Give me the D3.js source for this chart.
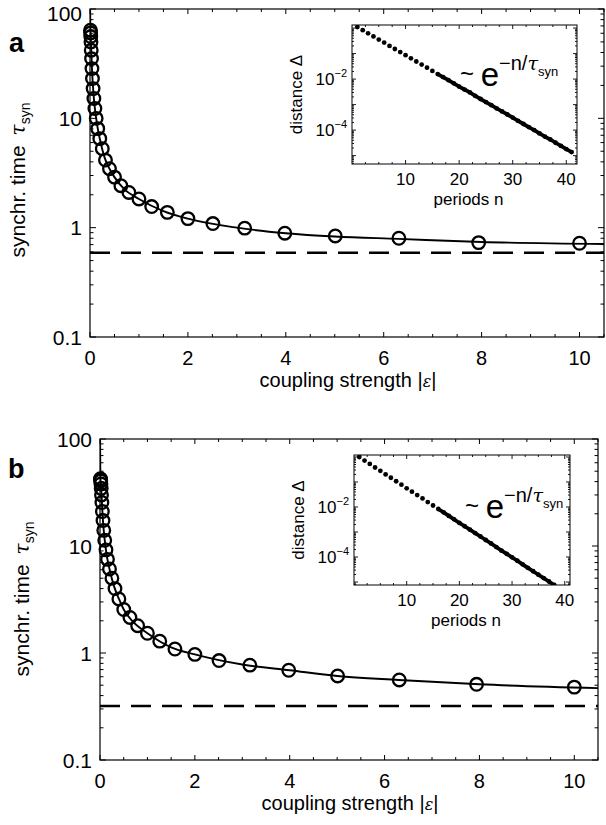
<!DOCTYPE html>
<html><head><meta charset="utf-8">
<script src="https://cdn.jsdelivr.net/npm/d3@7"></script>
<style>
body{margin:0;background:#fff}
svg{display:block}
text{font-family:"Liberation Sans",Arial,Helvetica,sans-serif;fill:#000}
</style>
</head><body>
<svg id="c" width="606" height="825"></svg>
<script>
// ---------- data ----------
const epsGrid = [0.01,0.0126,0.0158,0.02,0.0251,0.0316,0.0398,0.0501,0.0631,0.0794,0.1,0.126,0.158,0.2,0.251,0.316,0.398,0.501,0.631,0.794,1,1.26,1.58,2,2.51,3.16,3.98,5.01,6.31,7.94,10];
const tauA = [64,60.5,56,50,42,35.2,28.5,23.1,18.7,15.2,12.3,10,8.05,6.52,5.28,4.15,3.46,2.9,2.42,2.1,1.83,1.56,1.38,1.21,1.09,0.99,0.89,0.84,0.8,0.73,0.72];
const tauB = [42.5,41.8,40.5,38,34.5,30,25.5,21,17.3,14,11.3,9.2,7.5,6.1,5.0,4.0,3.2,2.55,2.15,1.8,1.53,1.29,1.09,0.97,0.85,0.77,0.69,0.61,0.56,0.51,0.48];
const curveEps = [0.002,0.005,0.01,0.02,0.04,0.07,0.1,0.15,0.2,0.3,0.4,0.5,0.7,1,1.5,2,3,4,5,6.3,8,10.5];
const curveTauA = [100,80,64,50,28.5,17,12.3,8.5,6.5,4.35,3.45,2.9,2.25,1.83,1.42,1.21,1.0,0.89,0.83,0.79,0.74,0.71];
const curveTauB = [100,60,42.5,38,25.5,15.5,11.3,7.8,6.1,4.15,3.2,2.55,1.95,1.53,1.13,0.97,0.78,0.69,0.61,0.56,0.51,0.47];
const limitA = 0.59, limitB = 0.32;
const xTickVals = [0,2,4,6,8,10];
const yTickVals = [0.1,1,10,100];
const yTickLabels = ["0.1","1","10","100"];

const periodsA = [1,2,3,4,5,6,7,8,9,10,11,12,13,14,15,16,17,18,19,20,21,22,23,24,25,26,27,28,29,30,31,32,33,34,35,36,37,38,39,40,41];
const distA = [1.10,0.83,0.62,0.47,0.355,0.27,0.20,0.151,0.115,0.087,0.065,0.049,0.037,0.028,0.021,0.0158,0.012,0.0091,0.0068,0.0051,0.0039,0.0030,0.0022,0.00166,0.00126,0.00095,0.00071,0.00054,0.00041,0.00031,0.00023,0.000174,0.000132,0.0001,7.4e-5,5.6e-5,4.3e-5,3.2e-5,2.4e-5,1.8e-5,1.38e-5];
const periodsB = [1,2,3,4,5,6,7,8,9,10,11,12,13,14,15,16,17,18,19,20,21,22,23,24,25,26,27,28,29,30,31,32,33,34,35,36,37,38];
const distB = [1.0,0.72,0.53,0.38,0.28,0.20,0.148,0.107,0.078,0.056,0.041,0.030,0.022,0.0158,0.0115,0.0083,0.0061,0.0044,0.0032,0.0023,0.0017,0.00124,0.00091,0.00066,0.00048,0.00035,0.00025,0.00018,0.000133,9.7e-5,7.1e-5,5.1e-5,3.7e-5,2.7e-5,1.96e-5,1.44e-5,1.05e-5,7.6e-6];
const insetXTicks = [10,20,30,40];
const insetYTicks = [1e-2,1e-4];
const insetYTickExp = ["−2","−4"];

// ---------- drawing ----------
const svg = d3.select("#c");

function logTicks(g, y, x0, x1, majorLen, minorLen) {
  y.ticks().forEach(t => {
    const isMajor = Math.abs(Math.log10(t) - Math.round(Math.log10(t))) < 1e-6;
    const L = isMajor ? majorLen : minorLen;
    const yy = y(t);
    g.append("line").attr("x1", x0).attr("x2", x0 + L).attr("y1", yy).attr("y2", yy);
    g.append("line").attr("x1", x1).attr("x2", x1 - L).attr("y1", yy).attr("y2", yy);
  });
}
function linTicks(g, x, vals, isMajor, y0, y1, majorLen, minorLen) {
  vals.forEach(t => {
    const L = isMajor(t) ? majorLen : minorLen;
    const xx = x(t);
    g.append("line").attr("x1", xx).attr("x2", xx).attr("y1", y0).attr("y2", y0 - L);
    g.append("line").attr("x1", xx).attr("x2", xx).attr("y1", y1).attr("y2", y1 + L);
  });
}

function panel(cfg) {
  const x = d3.scaleLinear().domain([0, 10.5]).range([cfg.left, cfg.right]);
  const y = d3.scaleLog().domain([0.1, 100]).range([cfg.bottom, cfg.top]);
  const g = svg.append("g");
  const clipId = "clip" + cfg.id;
  svg.append("clipPath").attr("id", clipId).append("rect")
    .attr("x", cfg.left).attr("y", cfg.top)
    .attr("width", cfg.right - cfg.left).attr("height", cfg.bottom - cfg.top);

  // ticks
  const tg = g.append("g").attr("stroke", "#000").attr("stroke-width", 1);
  logTicks(tg, y, cfg.left, cfg.right, 6, 3.5);
  linTicks(tg, x, d3.range(0, 10.51, 0.5), t => Math.abs(t % 2) < 1e-9, cfg.bottom, cfg.top, 5, 3);
  // frame
  g.append("rect").attr("x", cfg.left).attr("y", cfg.top)
    .attr("width", cfg.right - cfg.left).attr("height", cfg.bottom - cfg.top)
    .attr("fill", "none").attr("stroke", "#000").attr("stroke-width", 1.2);

  // tick labels
  yTickVals.forEach((v, i) => {
    g.append("text").attr("x", cfg.left - 8).attr("y", Math.max(y(v), 13)).attr("dy", "0.36em")
      .attr("text-anchor", "end").attr("font-size", 21).text(yTickLabels[i]);
  });
  xTickVals.forEach(v => {
    g.append("text").attr("x", x(v)).attr("y", cfg.bottom + 28)
      .attr("text-anchor", "middle").attr("font-size", 20).text(String(v));
  });
  // x title
  const xt = g.append("text").attr("x", (cfg.left + cfg.right) / 2 + 1).attr("y", cfg.bottom + 50)
    .attr("text-anchor", "middle").attr("font-size", 20);
  xt.append("tspan").text("coupling strength |");
  xt.append("tspan").attr("font-family", "DejaVu Serif, serif").attr("font-style", "italic").attr("font-size", 16).text("ε");
  xt.append("tspan").text("|");
  // y title
  const yt = g.append("text").attr("transform", `translate(${cfg.ytx},${cfg.yty}) rotate(-90)`)
    .attr("text-anchor", "middle").attr("font-size", 21);
  yt.append("tspan").text("synchr. time");
  yt.append("tspan").attr("font-family", "DejaVu Serif, serif").attr("font-style", "italic").attr("font-size", 20).attr("dx", 10).text("τ");
  yt.append("tspan").attr("font-size", 14).attr("dy", 5).text("syn");
  // panel letter
  g.append("text").attr("x", cfg.lx).attr("y", cfg.ly).attr("font-size", 27).attr("font-weight", "bold").text(cfg.letter);

  const pg = g.append("g").attr("clip-path", `url(#${clipId})`);
  // dashed limit
  pg.append("line").attr("x1", cfg.left).attr("x2", cfg.right)
    .attr("y1", y(cfg.limit)).attr("y2", y(cfg.limit))
    .attr("stroke", "#000").attr("stroke-width", 2.6).attr("stroke-dasharray", "20,11");
  // curve
  const line = d3.line().x((d, i) => x(cfg.cEps[i])).y((d, i) => y(cfg.cTau[i])).curve(d3.curveMonotoneX);
  pg.append("path").attr("d", line(cfg.cEps)).attr("fill", "none").attr("stroke", "#000").attr("stroke-width", 1.9);
  // circles
  g.append("g").selectAll("circle").data(cfg.eps).join("circle")
    .attr("cx", (d) => x(d)).attr("cy", (d, i) => y(cfg.tau[i])).attr("r", 6.3)
    .attr("fill", "none").attr("stroke", "#000").attr("stroke-width", 2.3);

  // ---------- inset ----------
  const I = cfg.inset;
  const ix = d3.scaleLinear().domain(I.xdom).range([I.left, I.right]);
  const iy = d3.scaleLog().domain(I.ydom).range([I.bottom, I.top]);
  const ig = g.append("g");
  ig.append("rect").attr("x", I.left).attr("y", I.top).attr("width", I.right - I.left).attr("height", I.bottom - I.top)
    .attr("fill", "#fff");
  const itg = ig.append("g").attr("stroke", "#000").attr("stroke-width", 0.9);
  logTicks(itg, iy, I.left, I.right, 4, 2);
  linTicks(itg, ix, d3.range(2.5, I.xdom[1], 2.5), t => Math.abs(t % 10) < 1e-9, I.bottom, I.top, 4, 2);
  const iclip = "iclip" + cfg.id;
  svg.append("clipPath").attr("id", iclip).append("rect")
    .attr("x", I.left).attr("y", I.top).attr("width", I.right - I.left).attr("height", I.bottom - I.top);
  const idg = ig.append("g").attr("clip-path", `url(#${iclip})`);
  const dl = d3.line().x((d) => ix(d)).y((d, i) => iy(I.dist[i + 15]));
  idg.append("path").attr("d", dl(I.n.slice(15))).attr("fill", "none").attr("stroke", "#000").attr("stroke-width", 3.8);
  idg.selectAll("circle").data(I.n).join("circle")
    .attr("cx", d => ix(d)).attr("cy", (d, i) => iy(I.dist[i])).attr("r", 2.4).attr("fill", "#000");
  ig.append("rect").attr("x", I.left).attr("y", I.top).attr("width", I.right - I.left).attr("height", I.bottom - I.top)
    .attr("fill", "none").attr("stroke", "#000").attr("stroke-width", 1);
  insetXTicks.forEach(v => {
    ig.append("text").attr("x", ix(v)).attr("y", I.bottom + 21).attr("text-anchor", "middle").attr("font-size", 17).text(String(v));
  });
  insetYTicks.forEach((v, i) => {
    const t = ig.append("text").attr("x", I.left - 5).attr("y", iy(v) + 6).attr("text-anchor", "end").attr("font-size", 17);
    t.append("tspan").text("10");
    t.append("tspan").attr("font-size", 11).attr("dy", -8).text(insetYTickExp[i]);
  });
  ig.append("text").attr("x", (I.left + I.right) / 2 + 4).attr("y", I.bottom + 41).attr("text-anchor", "middle").attr("font-size", 17).text("periods n");
  ig.append("text").attr("transform", `translate(${I.left - 50},${(I.top + I.bottom) / 2}) rotate(-90)`)
    .attr("text-anchor", "middle").attr("font-size", 17).text("distance Δ");
  // annotation ~ e^{-n/τsyn}
  const an = ig.append("text").attr("x", I.annX).attr("y", I.annY);
  an.append("tspan").attr("font-size", 24).attr("dy", -4).text("~ ");
  an.append("tspan").attr("font-size", 33).attr("dy", 4).text("e");
  an.append("tspan").attr("font-size", 20).attr("dy", -16).text("−n/");
  an.append("tspan").attr("font-family", "DejaVu Serif, serif").attr("font-style", "italic").attr("font-size", 19).text("τ");
  an.append("tspan").attr("font-size", 13).attr("dy", 6).text("syn");
}

panel({
  id: "a", left: 90, right: 604, top: 9, bottom: 337,
  eps: epsGrid, tau: tauA, cEps: curveEps, cTau: curveTauA, limit: limitA,
  ytx: 25, yty: 180, lx: 9, ly: 52, letter: "a",
  inset: { left: 352, right: 577, top: 25, bottom: 164, xdom: [0, 42], ydom: [4.7e-6, 1.32],
           n: periodsA, dist: distA, annX: 460, annY: 86 }
});
panel({
  id: "b", left: 100, right: 598, top: 439, bottom: 760,
  eps: epsGrid, tau: tauB, cEps: curveEps, cTau: curveTauB, limit: limitB,
  ytx: 29, yty: 599, lx: 8, ly: 478, letter: "b",
  inset: { left: 354, right: 570, top: 455, bottom: 585, xdom: [0, 41], ydom: [7.6e-6, 1.2],
           n: periodsB, dist: distB, annX: 465, annY: 518 }
});
</script>
</body></html>
